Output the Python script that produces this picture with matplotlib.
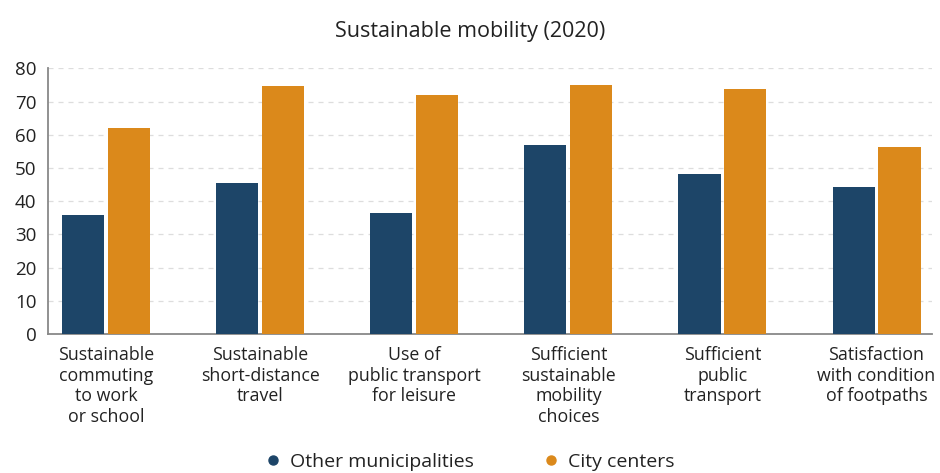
import matplotlib
matplotlib.use("Agg")
import matplotlib.pyplot as plt
import numpy as np
from matplotlib.lines import Line2D

plt.rcParams['font.family'] = ['Open Sans', 'DejaVu Sans']

categories = [
    "Sustainable\ncommuting\nto work\nor school",
    "Sustainable\nshort-distance\ntravel",
    "Use of\npublic transport\nfor leisure",
    "Sufficient\nsustainable\nmobility\nchoices",
    "Sufficient\npublic\ntransport",
    "Satisfaction\nwith condition\nof footpaths",
]
other_municipalities = [35.8, 45.5, 36.4, 56.9, 48.2, 44.3]
city_centers = [62.0, 74.8, 72.0, 75.0, 73.8, 56.3]
series_names = ["Other municipalities", "City centers"]
colors = ["#1d4568", "#db891b"]
yticks = [0, 10, 20, 30, 40, 50, 60, 70, 80]

fig = plt.figure(figsize=(9.4, 4.73), dpi=100)
ax = fig.add_axes([47.7/940, 1 - 334/473, (932-47.7)/940, (334-68.3)/473])

x = np.arange(len(categories))
w = 0.273
off = 0.149
ax.bar(x - off, other_municipalities, width=w, color=colors[0], zorder=3)
ax.bar(x + off, city_centers, width=w, color=colors[1], zorder=3)

ax.set_xlim(-0.38, 5.36)
ax.set_ylim(0, 80)
ax.set_yticks(yticks)
ax.set_yticklabels([str(v) for v in yticks], fontsize=13.5, color="#222222")
ax.set_xticks(x)
ax.set_xticklabels(categories, fontsize=12.8, color="#222222", linespacing=1.17)
ax.tick_params(axis='both', length=0)
ax.tick_params(axis='y', pad=8)
ax.tick_params(axis='x', pad=9)

ax.grid(axis='y', color="#dddddd", linestyle=(0, (4, 4)), linewidth=0.9, zorder=0)
for s in ["top", "right"]:
    ax.spines[s].set_visible(False)
for s in ["left", "bottom"]:
    ax.spines[s].set_color("#888888")
    ax.spines[s].set_linewidth(1.3)

fig.text(0.5, 1 - 31/473, "Sustainable mobility (2020)", ha="center", va="center",
         fontsize=15.5, color="#222222")

handles = [Line2D([], [], marker='o', linestyle='none', markersize=6.5,
                  markerfacecolor=c, markeredgecolor=c) for c in colors]
fig.legend(handles, series_names, loc="center", bbox_to_anchor=(0.5, 1 - 462/473),
           ncol=2, frameon=False, fontsize=14, handlelength=0.8, handletextpad=0.45,
           columnspacing=3.6, labelcolor="#222222")

fig.savefig("out.png", dpi=100)
